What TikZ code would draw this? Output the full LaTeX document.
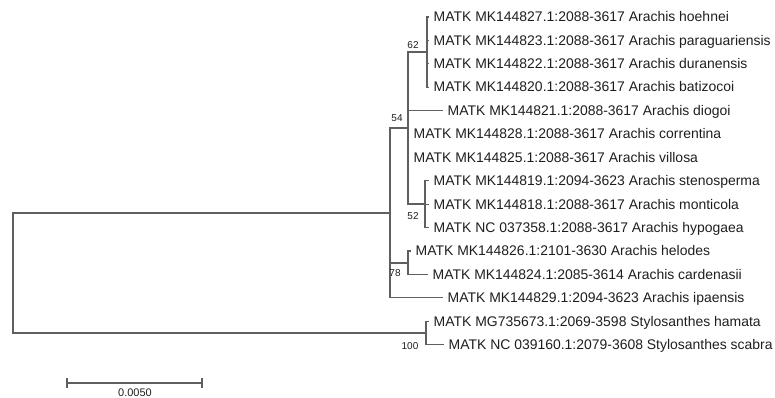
\documentclass[tikz,border=0pt]{standalone}
\usepackage{fontspec}
\setmainfont{Liberation Sans}
\definecolor{linecol}{RGB}{95,95,95}
\definecolor{txtcol}{RGB}{30,30,30}
\begin{document}
\begin{tikzpicture}[x=1pt,y=-1pt,
  branch/.style={draw=linecol,line width=1.1pt,line cap=rect},
  leaf/.style={anchor=west,inner xsep=5.5pt,inner ysep=0pt,text height=9.6pt,text depth=0pt,
    font=\fontsize{13.95}{14}\selectfont,text=txtcol},
  boot/.style={inner sep=0pt,font=\fontsize{10}{11}\selectfont,text=txtcol},
  scalelab/.style={inner sep=0pt,font=\fontsize{11}{12}\selectfont,text=txtcol}]
\useasboundingbox (0,0) rectangle (775,398);
% internal nodes
\coordinate (root) at (13,273);
\coordinate (A) at (390,213);
\coordinate (B) at (408,128);
\coordinate (N62) at (427,52);
\coordinate (N52) at (425,204);
\coordinate (N78) at (408,263);
\coordinate (S) at (426,333);
% leaves
\node[leaf] (hoehnei) at (428,17) {MATK MK144827.1:2088-3617 Arachis hoehnei};
\node[leaf] (paraguariensis) at (428,40.4) {MATK MK144823.1:2088-3617 Arachis paraguariensis};
\node[leaf] (duranensis) at (428,63.8) {MATK MK144822.1:2088-3617 Arachis duranensis};
\node[leaf] (batizocoi) at (428,87.2) {MATK MK144820.1:2088-3617 Arachis batizocoi};
\node[leaf] (diogoi) at (442,110.6) {MATK MK144821.1:2088-3617 Arachis diogoi};
\node[leaf] (correntina) at (408,134) {MATK MK144828.1:2088-3617 Arachis correntina};
\node[leaf] (villosa) at (408,157.4) {MATK MK144825.1:2088-3617 Arachis villosa};
\node[leaf] (stenosperma) at (428,180.8) {MATK MK144819.1:2094-3623 Arachis stenosperma};
\node[leaf] (monticola) at (428,204.2) {MATK MK144818.1:2088-3617 Arachis monticola};
\node[leaf] (hypogaea) at (428,227.6) {MATK NC 037358.1:2088-3617 Arachis hypogaea};
\node[leaf] (helodes) at (410,251) {MATK MK144826.1:2101-3630 Arachis helodes};
\node[leaf] (cardenasii) at (427,274.4) {MATK MK144824.1:2085-3614 Arachis cardenasii};
\node[leaf] (ipaensis) at (442,297.8) {MATK MK144829.1:2094-3623 Arachis ipaensis};
\node[leaf] (hamata) at (428,321.2) {MATK MG735673.1:2069-3598 Stylosanthes hamata};
\node[leaf] (scabra) at (443,344.6) {MATK NC 039160.1:2079-3608 Stylosanthes scabra};
% branches
\draw[branch] (root) |- (A);
\draw[branch] (root) |- (S);
\draw[branch] (A) |- (B);
\draw[branch] (A) |- (N78);
\draw[branch] (A) |- (ipaensis.west);
\draw[branch] (B) |- (N62);
\draw[branch] (B) |- (diogoi.west);
\draw[branch] (B) |- (correntina.west);
\draw[branch] (B) |- (villosa.west);
\draw[branch] (B) |- (N52);
\draw[branch] (N62) |- (hoehnei.west);
\draw[branch] (N62) |- (paraguariensis.west);
\draw[branch] (N62) |- (duranensis.west);
\draw[branch] (N62) |- (batizocoi.west);
\draw[branch] (N52) |- (stenosperma.west);
\draw[branch] (N52) |- (monticola.west);
\draw[branch] (N52) |- (hypogaea.west);
\draw[branch] (N78) |- (helodes.west);
\draw[branch] (N78) |- (cardenasii.west);
\draw[branch] (S) |- (hamata.west);
\draw[branch] (S) |- (scabra.west);
% bootstrap values
\node[boot] (b62) at (413,45) {62};
\node[boot] (b54) at (397,118) {54};
\node[boot] (b52) at (413,216) {52};
\node[boot] (b78) at (395,273) {78};
\node[boot] (b100) at (410,346) {100};
% scale bar
\coordinate (sbL) at (67,383);
\coordinate (sbR) at (202,383);
\draw[branch] (sbL) -- (sbR);
\draw[branch] ([yshift=-4.5pt]sbL) -- ([yshift=4.5pt]sbL);
\draw[branch] ([yshift=-4.5pt]sbR) -- ([yshift=4.5pt]sbR);
\node[scalelab] (sblab) at (135,393) {0.0050};
\end{tikzpicture}
\end{document}
